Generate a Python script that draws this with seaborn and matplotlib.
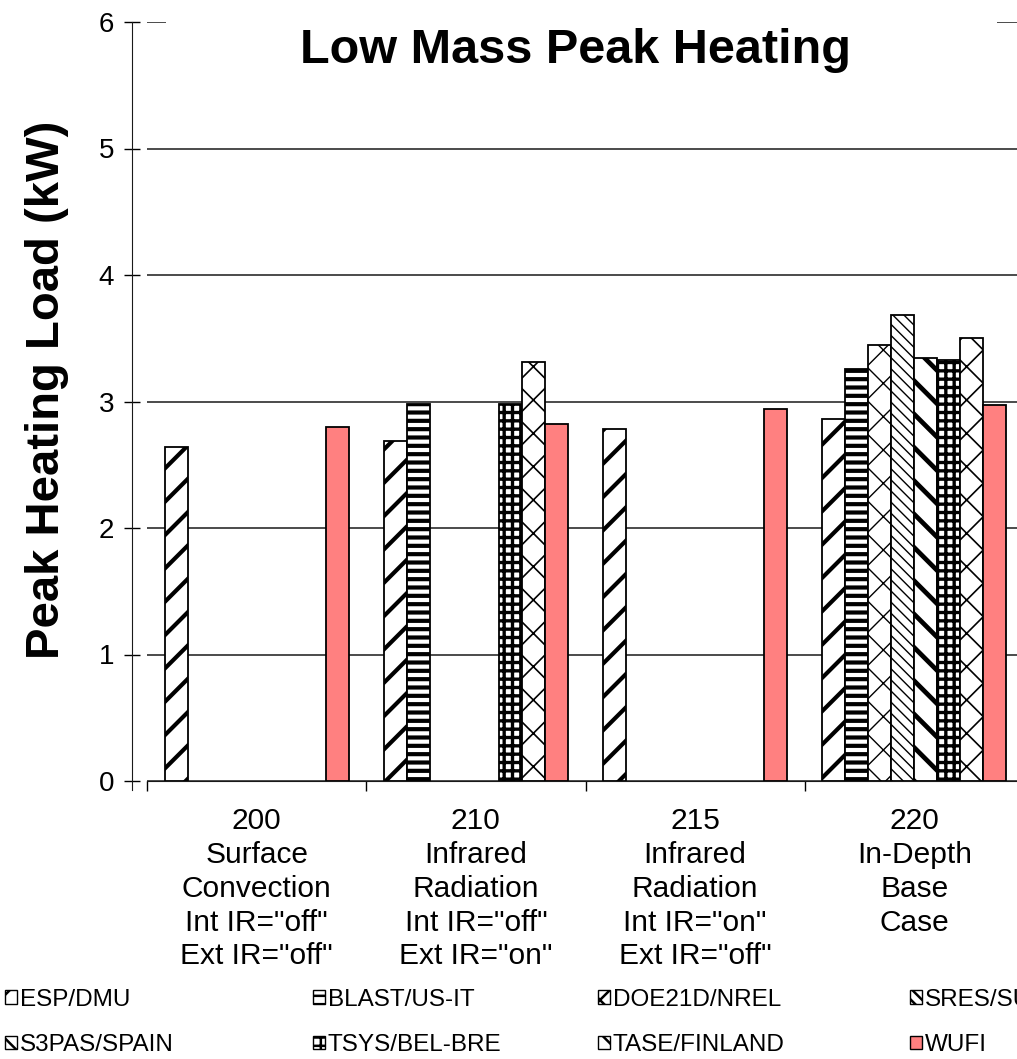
import numpy as np
import pandas as pd
import matplotlib.pyplot as plt
from matplotlib.patches import Patch, Rectangle
import seaborn as sns

cases = ['200\nSurface\nConvection\nInt IR="off"\nExt IR="off"',
         '210\nInfrared\nRadiation\nInt IR="off"\nExt IR="on"',
         '215\nInfrared\nRadiation\nInt IR="on"\nExt IR="off"',
         '220\nIn-Depth\nBase\nCase']
programs = ['ESP/DMU', 'BLAST/US-IT', 'DOE21D/NREL', 'SRES/SUN',
            'S3PAS/SPAIN', 'TSYS/BEL-BRE', 'TASE/FINLAND', 'WUFI']

esp = [2.64, 2.69, 2.78, 2.86]
blast = [np.nan, 2.98, np.nan, 3.26]
doe21d = [np.nan, np.nan, np.nan, 3.45]
sres = [np.nan, np.nan, np.nan, 3.68]
s3pas = [np.nan, np.nan, np.nan, 3.34]
tsys = [np.nan, 2.98, np.nan, 3.33]
tase = [np.nan, 3.31, np.nan, 3.50]
wufi = [2.80, 2.82, 2.94, 2.97]

values = [esp, blast, doe21d, sres, s3pas, tsys, tase, wufi]

rows = []
for prog, vals in zip(programs, values):
    for case, v in zip(cases, vals):
        rows.append({'case': case, 'program': prog, 'load': v})
df = pd.DataFrame(rows).dropna()

# look of each program: (hatch, hatch linewidth)
hatches = [('/', 3.0), ('--', 3.0), ('x', 1.0), ('\\\\\\', 1.0),
           ('\\', 3.4), ('++', 2.4), ('x', 1.2), ('', 1.0)]
palette = {p: 'white' for p in programs}
palette['WUFI'] = '#ff8080'

sns.set_style('white')
plt.rcParams['font.family'] = ['Liberation Sans', 'DejaVu Sans']
plt.rcParams['hatch.linewidth'] = 1.8
plt.rcParams['text.color'] = 'black'
plt.rcParams['xtick.color'] = 'black'
plt.rcParams['ytick.color'] = 'black'
plt.rcParams['axes.labelcolor'] = 'black'

W, H = 1017, 1059
fig = plt.figure(figsize=(W / 100, H / 100), dpi=100)
ax = fig.add_axes([147 / W, (H - 781) / H, 877 / W, 759 / H])

sns.barplot(data=df, x='case', y='load', hue='program', order=cases,
            hue_order=programs, palette=palette, width=0.84, gap=0,
            errorbar=None, saturation=1, edgecolor='black', linewidth=1.3,
            legend=False, ax=ax)

for cont, (h, lw) in zip(ax.containers, hatches):
    for bar in cont:
        bar.set_hatch(h)
        if hasattr(bar, 'set_hatch_linewidth'):
            bar.set_hatch_linewidth(lw)

ax.set_xlim(-0.5, 3.5)
ax.set_ylim(0, 6)
ax.set_yticks(range(0, 7))
ax.set_axisbelow(True)
ax.yaxis.grid(True, color='#1a1a1a', linewidth=1.1)
ax.xaxis.grid(False)
ax.yaxis.get_gridlines()[-1].set_color('#999999')

for s in ['top', 'right']:
    ax.spines[s].set_visible(False)
ax.spines['left'].set_position(('outward', 11))
ax.spines['left'].set_bounds(-0.07, 6)
ax.spines['left'].set_color('#1a1a1a')
ax.spines['bottom'].set_color('#1a1a1a')

ax.tick_params(axis='y', direction='inout', length=11, width=1,
               labelsize=20, pad=7, left=True)
ax.set_xticks([-0.5, 0.5, 1.5, 2.5, 3.5], minor=True)
ax.tick_params(axis='x', which='major', length=0, labelsize=21.5, pad=19)
ax.tick_params(axis='x', which='minor', direction='out', length=7, width=1,
               bottom=True)
for lab in ax.get_xticklabels():
    lab.set_linespacing(1.26)
ax.set_xlabel('')
ax.set_ylabel('')

fig.text(47 / W, (H - 390) / H, 'Peak Heating Load (kW)', rotation=90,
         ha='center', va='center', fontsize=34, fontweight='bold')

# white title box hides the top grid line, like the source chart
fig.patches.append(Rectangle((166 / W, (H - 80) / H), 831 / W, 70 / H,
                             transform=fig.transFigure, facecolor='white',
                             edgecolor='none', zorder=2))
fig.text(575 / W, (H - 63) / H, 'Low Mass Peak Heating', ha='center',
         va='baseline', fontsize=35, fontweight='bold', zorder=3)

handles = [Patch(facecolor=palette[p], edgecolor='black', hatch=h, linewidth=1)
           for p, (h, lw) in zip(programs, hatches)]
col_x = [5, 313, 598, 910]
for j, x in enumerate(col_x):
    fig.legend(handles=[handles[j], handles[j + 4]],
               labels=[programs[j], programs[j + 4]],
               loc='upper left', bbox_to_anchor=(x / W, (H - 989) / H),
               frameon=False, fontsize=17.5, handlelength=0.5,
               handleheight=0.5, handletextpad=0.1, labelspacing=0.95,
               borderpad=0, borderaxespad=0)

fig.savefig('out.png', dpi=100)
